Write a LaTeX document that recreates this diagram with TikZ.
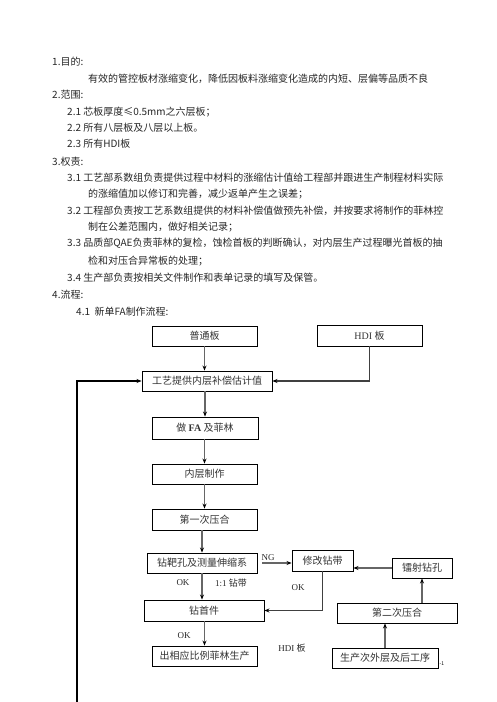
\documentclass[tikz,border=0pt]{standalone}
\usepackage{fontspec}
\setmainfont{Noto Sans CJK SC}
\newfontfamily\tnr{Liberation Serif}
\usetikzlibrary{arrows.meta}
\tikzset{
  box/.style={draw=black, line width=0.9pt, minimum height=20pt, inner sep=0pt, text=black!80, font=\fontsize{10}{12}\selectfont},
  conn/.style={draw=black!60, line width=1.4pt, -{Stealth[length=5pt,width=4pt,black]}},
  txt/.style={anchor=west, inner sep=0pt, text=black!85, font=\fontsize{10}{12}\selectfont},
  lbl/.style={inner sep=0pt, text=black!85, font=\fontsize{9}{10}\selectfont}
}
\begin{document}
\begin{tikzpicture}[x=1pt,y=-1pt]
\useasboundingbox (0,0) rectangle (496,702);
% body text
\node[txt] (t1) at (52,62) {1.目的:};
\node[txt] (t2) at (88,79) {有效的管控板材涨缩变化，降低因板料涨缩变化造成的内短、层偏等品质不良};
\node[txt] (t3) at (52,95) {2.范围:};
\node[txt] (t4) at (67,112) {2.1 芯板厚度≤0.5mm之六层板；};
\node[txt] (t5) at (67,128) {2.2 所有八层板及八层以上板。};
\node[txt] (t6) at (67,144) {2.3 所有HDI板};
\node[txt] (t7) at (52,162) {3.权责:};
\node[txt] (t8) at (67,178) {3.1 工艺部系数组负责提供过程中材料的涨缩估计值给工程部并跟进生产制程材料实际};
\node[txt] (t9) at (88,194) {的涨缩值加以修订和完善，减少返单产生之误差；};
\node[txt] (t10) at (67,211) {3.2 工程部负责按工艺系数组提供的材料补偿值做预先补偿，并按要求将制作的菲林控};
\node[txt] (t11) at (88,227) {制在公差范围内，做好相关记录；};
\node[txt] (t12) at (67,243) {3.3 品质部QAE负责菲林的复检，蚀检首板的判断确认，对内层生产过程曝光首板的抽};
\node[txt] (t13) at (88,261) {检和对压合异常板的处理；};
\node[txt] (t14) at (67,278) {3.4 生产部负责按相关文件制作和表单记录的填写及保管。};
\node[txt] (t15) at (52,295) {4.流程:};
\node[txt] (t16) at (76,312) {4.1\ \ 新单FA制作流程:};
% boxes
\node[box, minimum width=105pt] (putong) at (204.5,336) {普通板};
\node[box, minimum width=105pt, minimum height=21pt] (hdi) at (369.5,335.5) {{\tnr HDI} 板};
\node[box, minimum width=130pt] (gongyi) at (207,381) {工艺提供内层补偿估计值};
\node[box, minimum width=106pt, minimum height=22pt] (zuofa) at (205,428) {做 {\tnr\bfseries FA} 及菲林};
\node[box, minimum width=105pt] (neiceng) at (204.5,474) {内层制作};
\node[box, minimum width=105pt, minimum height=21pt] (diyici) at (204.5,519.5) {第一次压合};
\node[box, minimum width=110pt] (zuanba) at (202,563) {钻靶孔及测量伸缩系};
\node[box, minimum width=61pt, minimum height=21pt] (xiugai) at (322.5,560.5) {修改钻带};
\node[box, minimum width=60pt] (leishe) at (422,568) {镭射钻孔};
\node[box, minimum width=120pt, minimum height=21pt] (shoujian) at (204,610.5) {钻首件};
\node[box, minimum width=120pt] (dierci) at (397,613) {第二次压合};
\node[box, minimum width=105pt] (chu) at (204.5,656) {出相应比例菲林生产};
\node[box, minimum width=106pt] (shengchan) at (385,658) {生产次外层及后工序};
% labels
\node[lbl] (ng) at (268,558) {\tnr NG};
\node[lbl] (ok1) at (183,583) {\tnr OK};
\node[lbl] (ratio) at (231,583) {{\tnr 1:1} 钻带};
\node[lbl] (ok2) at (298,588) {\tnr OK};
\node[lbl] (ok3) at (184,636) {\tnr OK};
\node[lbl] (hdilbl) at (292,648) {{\tnr HDI} 板};
\node[inner sep=0pt, font=\fontsize{5}{6}\selectfont] (pg) at (442,664) {-1};
% connectors
\coordinate (bot) at (77,702);
\draw[conn] (putong.south) -- (putong.south |- gongyi.north);
\draw[conn, draw=black!75] (hdi.south) |- (gongyi.east);
\draw[conn] (gongyi.south -| zuofa.south) -- (zuofa.north);
\draw[conn] (zuofa.south -| neiceng.south) -- (neiceng.north);
\draw[conn] (neiceng.south) -- (diyici.north);
\draw[conn] (diyici.south -| zuanba.south) -- (zuanba.north);
\draw[conn] (zuanba.south) -- (zuanba.south |- shoujian.north);
\draw[conn, shorten <=5pt] (zuanba.east) -- (zuanba.east -| xiugai.west);
\draw[conn] (leishe.west) -- (leishe.west -| xiugai.east);
\draw[conn, draw=black!75] (xiugai.south) |- (shoujian.east);
\draw[conn] (leishe.south |- dierci.north) -- (leishe.south);
\draw[conn] (shengchan.north) -- (shengchan.north |- dierci.south);
\draw[conn] (shoujian.south -| chu.south) -- (chu.north);
\draw[draw=black, line width=1.2pt, -{Stealth[length=5pt,width=4pt]}] (bot) |- (gongyi.west);
\end{tikzpicture}
\end{document}
